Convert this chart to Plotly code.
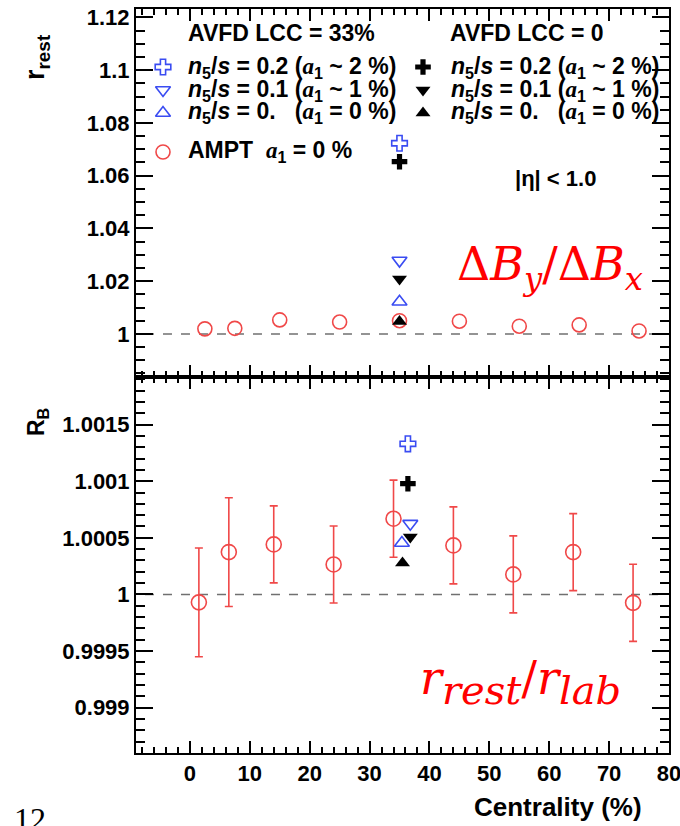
import plotly.graph_objects as go

# ---- data ----------------------------------------------------------------
# AMPT (a1 = 0 %) centrality bins
ampt_x_rest = [2.5, 7.5, 15, 25, 35, 45, 55, 65, 75]
ampt_r_rest = [1.0019, 1.0021, 1.0053, 1.0045, 1.0050, 1.0048, 1.0029, 1.0034, 1.0011]

ampt_x_rb = [1.5, 6.5, 14, 24, 34, 44, 54, 64, 74]
ampt_rb = [0.99993, 1.000374, 1.000442, 1.000265, 1.000669, 1.000433, 1.000177, 1.000374, 0.999926]
ampt_rb_err = [0.00048, 0.00048, 0.00034, 0.00034, 0.00034, 0.00034, 0.00034, 0.00034, 0.00034]

# AVFD points (30-40 % centrality), order: n5/s = 0.2, 0.1, 0.
avfd_labels = ["0.2", "0.1", "0."]
avfd_a1 = ["2", "1", "0"]
avfd33_x_rest = [35, 35, 35]
avfd33_r_rest = [1.0723, 1.0278, 1.0122]
avfd0_x_rest = [35, 35, 35]
avfd0_r_rest = [1.0653, 1.0208, 1.0047]

avfd33_x_rb = [36.4, 36.8, 35.4]
avfd33_rb = [1.00133, 1.000625, 1.000454]
avfd0_x_rb = [36.4, 36.8, 35.5]
avfd0_rb = [1.000978, 1.000507, 1.000277]

# axis ticks
x_ticks = [0, 10, 20, 30, 40, 50, 60, 70, 80]
x_ticktext = ["0", "10", "20", "30", "40", "50", "60", "70", "80"]
top_ticks = [1.0, 1.02, 1.04, 1.06, 1.08, 1.1, 1.12]
top_ticktext = ["1", "1.02", "1.04", "1.06", "1.08", "1.1", "1.12"]
bot_ticks = [0.999, 0.9995, 1.0, 1.0005, 1.001, 1.0015]
bot_ticktext = ["0.999", "0.9995", "1", "1.0005", "1.001", "1.0015"]

# ---- style -----------------------------------------------------------------
BLUE = "#3a4cf2"
RED = "#f04848"
BLACK = "#000000"
FONT = "Liberation Sans"
SERIF = "Liberation Serif"
MATH = "DejaVu Serif"
SYM33 = ["cross-open", "triangle-down-open", "triangle-up-open"]
SYM0 = ["cross", "triangle-down", "triangle-up"]

W, H = 680, 826
L, R, T, B = 136, 11, 9, 73
plot_w = W - L - R
plot_h = H - T - B
split = 376 / plot_h

fig = go.Figure()

# top panel (x, y)
fig.add_trace(go.Scatter(x=ampt_x_rest, y=ampt_r_rest, mode="markers",
                         marker=dict(symbol="circle-open", size=14, color=RED,
                                     line=dict(width=1.6, color=RED)),
                         xaxis="x", yaxis="y", showlegend=False))
for i in range(3):
    fig.add_trace(go.Scatter(x=[avfd33_x_rest[i]], y=[avfd33_r_rest[i]], mode="markers",
                             marker=dict(symbol=SYM33[i], size=13, color=BLUE,
                                         line=dict(width=1.6, color=BLUE)),
                             xaxis="x", yaxis="y", showlegend=False))
    fig.add_trace(go.Scatter(x=[avfd0_x_rest[i]], y=[avfd0_r_rest[i]], mode="markers",
                             marker=dict(symbol=SYM0[i], size=13, color=BLACK,
                                         line=dict(width=0)),
                             xaxis="x", yaxis="y", showlegend=False))

# bottom panel (x2, y2)
fig.add_trace(go.Scatter(x=ampt_x_rb, y=ampt_rb, mode="markers",
                         error_y=dict(type="data", array=ampt_rb_err, color=RED,
                                      thickness=1.6, width=4),
                         marker=dict(symbol="circle-open", size=15, color=RED,
                                     line=dict(width=1.6, color=RED)),
                         xaxis="x2", yaxis="y2", showlegend=False))
for i in range(3):
    fig.add_trace(go.Scatter(x=[avfd33_x_rb[i]], y=[avfd33_rb[i]], mode="markers",
                             marker=dict(symbol=SYM33[i], size=13, color=BLUE,
                                         line=dict(width=1.6, color=BLUE)),
                             xaxis="x2", yaxis="y2", showlegend=False))
    fig.add_trace(go.Scatter(x=[avfd0_x_rb[i]], y=[avfd0_rb[i]], mode="markers",
                             marker=dict(symbol=SYM0[i], size=13, color=BLACK,
                                         line=dict(width=0)),
                             xaxis="x2", yaxis="y2", showlegend=False))

# legend glyphs on a free axis pair measured in figure pixels
leg_rows = [67, 90, 113]
fig.add_trace(go.Scatter(x=[163] * 3, y=leg_rows, mode="markers",
                         marker=dict(symbol=SYM33, size=13, color=BLUE,
                                     line=dict(width=1.6, color=BLUE)),
                         xaxis="x3", yaxis="y3", showlegend=False, hoverinfo="skip"))
fig.add_trace(go.Scatter(x=[423] * 3, y=leg_rows, mode="markers",
                         marker=dict(symbol=SYM0, size=13, color=BLACK, line=dict(width=0)),
                         xaxis="x3", yaxis="y3", showlegend=False, hoverinfo="skip"))
fig.add_trace(go.Scatter(x=[163], y=[152], mode="markers",
                         marker=dict(symbol="circle-open", size=14, color=RED,
                                     line=dict(width=1.6, color=RED)),
                         xaxis="x3", yaxis="y3", showlegend=False, hoverinfo="skip"))

# reference lines at 1
for ax in ("", "2"):
    fig.add_shape(type="line", x0=-7.5, x1=78.5, y0=1, y1=1,
                  xref="x" + ax, yref="y" + ax,
                  line=dict(color="#707070", width=1.5, dash="dash"), layer="below")

frame = dict(showline=True, linecolor="black", linewidth=2, mirror="allticks",
             ticks="inside", tickcolor="black", showgrid=False, zeroline=False,
             ticklabeloverflow="allow", automargin=False,
             tickfont=dict(family=FONT, size=22, color="black", weight="bold"))

fig.update_layout(
    width=W, height=H, margin=dict(l=L, r=R, t=T, b=B, autoexpand=False), autosize=False,
    paper_bgcolor="white", plot_bgcolor="rgba(0,0,0,0)",
    xaxis=dict(domain=[0, 1], range=[-9, 80], anchor="y", showticklabels=False,
               tickmode="array", tickvals=x_ticks, ticklen=12, tickwidth=1.5,
               minor=dict(ticks="inside", dtick=2, tick0=0, ticklen=6, tickwidth=1.5,
                          tickcolor="black", showgrid=False), **frame),
    yaxis=dict(domain=[split, 1], range=[0.98365, 1.1232], anchor="x",
               tickmode="array", tickvals=top_ticks, ticktext=top_ticktext,
               ticklen=17, tickwidth=1.5,
               minor=dict(ticks="inside", dtick=0.005, tick0=1, ticklen=9, tickwidth=1.5,
                          tickcolor="black", showgrid=False), **frame),
    xaxis2=dict(domain=[0, 1], range=[-9, 80], anchor="y2",
                tickmode="array", tickvals=x_ticks, ticktext=x_ticktext, ticklen=12,
                tickwidth=1.5,
                minor=dict(ticks="inside", dtick=2, tick0=0, ticklen=6, tickwidth=1.5,
                           tickcolor="black", showgrid=False), **frame),
    yaxis2=dict(domain=[0, split], range=[0.99860, 1.00192], anchor="x2",
                tickmode="array", tickvals=bot_ticks, ticktext=bot_ticktext,
                ticklen=17, tickwidth=1.5,
                minor=dict(ticks="inside", dtick=0.0001, tick0=1, ticklen=9, tickwidth=1.5,
                           tickcolor="black", showgrid=False), **frame),
    xaxis3=dict(domain=[0, 1], range=[L, W - R], anchor="y3", visible=False,
                fixedrange=True, automargin=False),
    yaxis3=dict(domain=[0, 1], range=[H - B, T], anchor="x3", visible=False,
                fixedrange=True, automargin=False),
)


def px_text(x, y, text, size=23, xanchor="left", yanchor="middle", color="black",
            family=FONT, bold=True, angle=0):
    """Place a text at a figure-pixel position (origin top-left)."""
    fig.add_annotation(x=(x - L) / plot_w, y=1 - (y - T) / plot_h,
                       xref="paper", yref="paper", text=text, showarrow=False,
                       xanchor=xanchor, yanchor=yanchor, textangle=angle,
                       font=dict(family=family, size=size, color=color,
                                 weight="bold" if bold else "normal"))


A1 = f"<span style='font-family:{SERIF}'><i>a</i></span><sub>1</sub>"


def n5s(val, approx):
    sep = " ~ " if approx != "0" else " = "
    pad = "" if val != "0." else "  "
    return f"<i>n</i><sub>5</sub>/<i>s</i> = {val} {pad}({A1}{sep}{approx} %)"


px_text(186, 33, "AVFD LCC = 33%")
px_text(448, 33, "AVFD LCC = 0")
for i in range(3):
    px_text(186, leg_rows[i], n5s(avfd_labels[i], avfd_a1[i]))
    px_text(449, leg_rows[i], n5s(avfd_labels[i], avfd_a1[i]))
px_text(186, 152, f"AMPT  {A1} = 0 %")
px_text(513, 178, "|η| < 1.0", size=22)

# axis titles
px_text(37, 57, "r<sub>rest</sub>", size=27, xanchor="center", angle=-90)
px_text(38, 422, "R<sub>B</sub>", size=23, xanchor="center", angle=-90)
px_text(644, 807, "Centrality (%)", size=26, xanchor="right")

# ratio labels
px_text(550, 267, "Δ<i>B</i><sub><i>y</i></sub>/Δ<i>B</i><sub><i>x</i></sub>", size=46,
        xanchor="center", color="#ff0000", family=MATH, bold=False)


def big_sub(s):
    return f"<sub><span style='font-size:40px'><i>{s}</i></span></sub>"


px_text(520, 682, f"<i>r</i>{big_sub('rest')}/<i>r</i>{big_sub('lab')}", size=46,
        xanchor="center", color="#ff0000", family=MATH, bold=False)

# page number
px_text(12, 819, "12", size=32, family=SERIF, bold=False)

# keep the page free of scrollbars so the figure keeps its full width
no_scroll = ("document.documentElement.style.overflow='hidden';"
             "document.body.style.overflow='hidden';document.body.style.margin='0';")
fig.write_html("out.html", config={"responsive": False}, post_script=no_scroll)
